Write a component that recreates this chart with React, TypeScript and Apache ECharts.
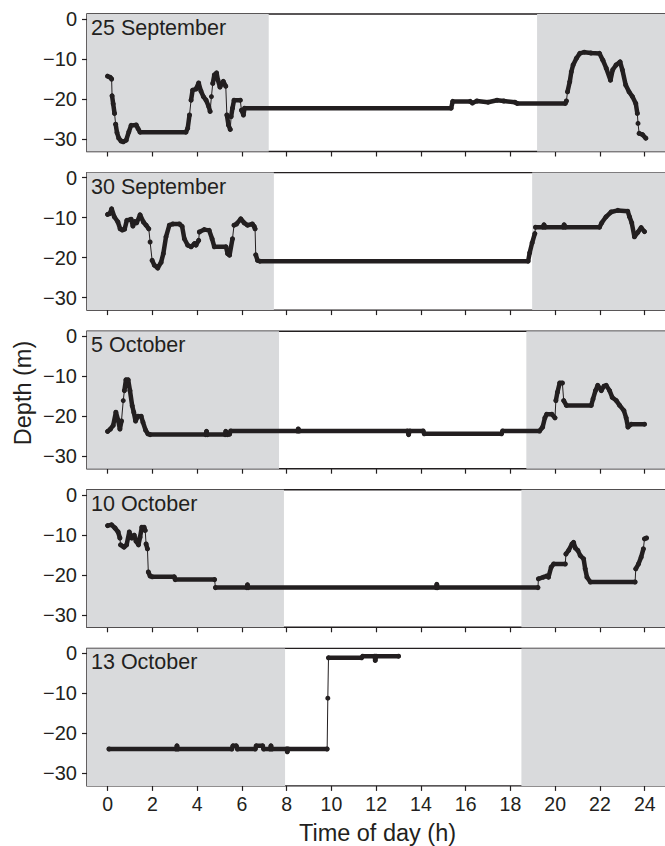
import React, { useEffect, useRef } from "react";
import * as echarts from "echarts";

// ---------------- data (time of day h, depth m) ----------------
const panelTitles = ["25 September", "30 September", "5 October", "10 October", "13 October"];
const nightEnd = [7.2, 7.43, 7.66, 7.88, 7.93];
const nightStart = [19.19, 18.97, 18.71, 18.49, 18.49];

const day1: number[][] = [
  [0.0, -14.3], [0.12, -14.6], [0.18, -15.0], [0.2, -19.2], [0.25, -21.2], [0.31, -23.6], [0.36, -26.3],
  [0.42, -28.4], [0.5, -29.8], [0.6, -30.5], [0.7, -30.7], [0.83, -30.3], [0.95, -28.2], [1.05, -26.6],
  [1.28, -26.5], [1.36, -27.4], [1.45, -28.3], [3.5, -28.3], [3.58, -27.3], [3.66, -24.0], [3.73, -20.3],
  [3.8, -17.8], [3.95, -17.5], [4.07, -16.0], [4.17, -18.0], [4.28, -19.4], [4.4, -20.3], [4.52, -21.9],
  [4.58, -23.1], [4.64, -19.4], [4.7, -16.1], [4.77, -14.0], [4.87, -13.5], [4.93, -15.3], [5.02, -17.0],
  [5.17, -15.6], [5.28, -16.8], [5.33, -24.0], [5.4, -26.5], [5.48, -27.6], [5.52, -24.4], [5.58, -22.3],
  [5.65, -20.3], [5.93, -20.3], [5.98, -22.8], [6.07, -24.0], [6.12, -22.3], [15.35, -22.3], [15.42, -20.6],
  [16.2, -20.6], [16.3, -21.0], [16.5, -20.5], [17.0, -20.8], [17.4, -20.3], [17.7, -20.5], [18.2, -20.8],
  [18.3, -21.1], [20.45, -21.1], [20.5, -20.5], [20.55, -18.2], [20.65, -15.7], [20.72, -13.2], [20.8, -11.5],
  [20.95, -9.8], [21.1, -8.6], [21.3, -8.3], [21.6, -8.5], [21.98, -8.6], [22.13, -10.3], [22.28, -12.3],
  [22.47, -15.3], [22.57, -12.7], [22.72, -11.5], [22.9, -10.7], [23.0, -12.7], [23.15, -16.5], [23.3, -18.2],
  [23.45, -19.4], [23.6, -21.1], [23.67, -23.6], [23.7, -26.1], [23.75, -28.6], [23.9, -28.9], [24.05, -29.8],
];

const day2: number[][] = [
  [0, -9.2], [0.1, -9.0], [0.18, -7.8], [0.3, -9.8], [0.46, -11.1], [0.56, -12.8], [0.66, -13.1], [0.76, -12.9],
  [0.86, -10.7], [1.05, -10.4], [1.13, -12.1], [1.22, -11.0], [1.3, -11.3], [1.45, -9.3], [1.6, -11.1],
  [1.72, -11.9], [1.84, -12.8], [1.9, -16.1], [1.99, -20.7], [2.09, -21.9], [2.24, -22.6], [2.39, -21.2],
  [2.49, -19.0], [2.61, -14.8], [2.76, -11.9], [2.91, -11.6], [3.21, -11.6], [3.33, -12.2], [3.43, -15.3],
  [3.58, -16.9], [3.73, -17.3], [3.88, -16.5], [3.95, -16.9], [4.07, -15.7], [4.1, -13.6], [4.32, -13.0],
  [4.54, -13.2], [4.67, -15.3], [4.77, -17.3], [5.29, -17.3], [5.36, -19.0], [5.45, -19.4], [5.58, -15.3],
  [5.65, -11.9], [5.76, -11.6], [5.95, -10.3], [6.1, -11.3], [6.25, -11.9], [6.47, -11.6], [6.55, -12.2],
  [6.59, -12.8], [6.62, -19.3], [6.7, -20.7], [6.8, -20.9], [18.79, -20.9], [18.86, -18.8], [18.97, -16.3],
  [19.09, -14.0], [19.12, -12.4], [19.45, -12.4], [19.5, -11.8], [19.55, -12.4], [20.35, -12.4], [20.4, -11.8],
  [20.45, -12.4], [21.98, -12.4], [22.08, -11.3], [22.27, -9.8], [22.5, -8.6], [22.8, -8.2], [23.24, -8.4],
  [23.32, -9.8], [23.42, -11.3], [23.54, -14.8], [23.69, -13.7], [23.84, -12.5], [23.99, -13.5],
];

const day3: number[][] = [
  [0, -23.8], [0.13, -23.2], [0.25, -22.3], [0.37, -19.0], [0.47, -21.0], [0.55, -23.2], [0.62, -21.2],
  [0.7, -16.1], [0.75, -13.6], [0.82, -10.9], [0.92, -10.9], [1.0, -13.6], [1.1, -17.4], [1.17, -19.0],
  [1.25, -21.2], [1.36, -20.0], [1.5, -20.0], [1.58, -21.5], [1.7, -23.5], [1.8, -24.4], [1.9, -24.6],
  [4.38, -24.6], [4.42, -23.8], [4.46, -24.6], [5.25, -24.6], [5.28, -23.8], [5.35, -24.6], [5.45, -24.5],
  [5.5, -23.7], [8.48, -23.7], [8.52, -23.2], [8.56, -23.7], [13.4, -23.7], [13.45, -24.6], [13.5, -23.7],
  [14.1, -23.7], [14.15, -24.4], [17.6, -24.4], [17.65, -23.7], [19.3, -23.7], [19.44, -22.7], [19.54, -20.4],
  [19.62, -19.5], [19.85, -19.5], [19.99, -20.4], [20.03, -16.1], [20.1, -14.0], [20.2, -11.7], [20.32, -11.7],
  [20.38, -16.1], [20.5, -17.3], [21.61, -17.3], [21.69, -15.7], [21.8, -13.6], [21.9, -12.3], [22.06, -13.6],
  [22.18, -12.5], [22.28, -12.3], [22.43, -13.6], [22.55, -15.3], [22.73, -16.1], [22.88, -17.3], [23.07, -18.6],
  [23.17, -20.4], [23.25, -22.7], [23.4, -22.0], [23.99, -22.0],
];

const day4: number[][] = [
  [0, -7.7], [0.18, -7.5], [0.33, -8.3], [0.47, -9.3], [0.55, -10.8], [0.58, -12.5], [0.73, -13.1],
  [0.85, -12.5], [0.97, -9.3], [1.08, -10.8], [1.19, -10.1], [1.27, -11.6], [1.38, -12.5], [1.45, -10.6],
  [1.53, -8.1], [1.63, -8.1], [1.68, -8.9], [1.72, -12.3], [1.78, -13.5], [1.82, -19.3], [1.9, -20.3],
  [2.0, -20.5], [2.98, -20.5], [3.02, -21.2], [4.78, -21.2], [4.82, -23.2], [6.22, -23.2], [6.25, -22.5],
  [6.28, -23.2], [14.68, -23.2], [14.71, -22.4], [14.74, -23.2], [19.23, -23.2], [19.25, -21.0], [19.47, -20.6],
  [19.62, -20.3], [19.7, -20.6], [19.82, -18.1], [19.93, -17.3], [20.45, -17.3], [20.48, -14.8], [20.6, -13.9],
  [20.75, -12.3], [20.82, -11.9], [20.9, -13.3], [21.01, -13.9], [21.12, -15.2], [21.27, -16.0], [21.34, -18.5],
  [21.42, -20.6], [21.57, -21.8], [23.57, -21.8], [23.6, -18.5], [23.72, -17.3], [23.84, -15.6], [23.94, -13.5],
  [23.99, -11.0], [24.08, -10.8],
];

const day5: number[][] = [
  [0.06, -23.9], [3.06, -23.9], [3.1, -23.1], [3.14, -23.9], [5.55, -23.9], [5.6, -23.1], [5.75, -23.1],
  [5.8, -23.9], [6.6, -23.9], [6.64, -23.1], [6.93, -23.1], [6.97, -23.9], [7.26, -23.9], [7.3, -23.1],
  [7.34, -23.9], [8.0, -23.9], [8.03, -24.6], [8.06, -23.9], [9.81, -23.9], [9.84, -11.2], [9.87, -1.1],
  [11.35, -1.1], [11.4, -0.7], [11.93, -0.7], [11.96, -1.75], [12.0, -0.7], [13.0, -0.7],
];

const depthSeries = [day1, day2, day3, day4, day5];

const xTicks = [0, 2, 4, 6, 8, 10, 12, 14, 16, 18, 20, 22, 24];
const yTicks = [0, -10, -20, -30];

// ---------------- layout / style ----------------
const FONT = '"Liberation Sans", Arial, Helvetica, sans-serif';
const INK = "#231f20";
const SHADE = "#d9dadc";
const PANEL_TOPS = [14, 172.6, 331.2, 489.8, 648.4];
const PANEL_H = 137.5;
const GRID_LEFT = 87;
const GRID_W = 580;
const X_MIN = -0.92;
const X_MAX = X_MIN + GRID_W / 22.458;
const Y_MAX = 1.25;
const Y_MIN = Y_MAX - PANEL_H / 4;

function thickRuns(pts: number[][]) {
  const out: any[] = [];
  for (let i = 0; i < pts.length; i++) {
    if (i > 0) {
      const dt = pts[i][0] - pts[i - 1][0];
      const dd = Math.abs(pts[i][1] - pts[i - 1][1]);
      if (dt <= 0 || dd / dt > 45) out.push([pts[i][0], null]);
    }
    out.push(pts[i]);
  }
  return out;
}

export default function App() {
  const ref = useRef<HTMLDivElement>(null);

  useEffect(() => {
    if (!ref.current) return;
    const chart = echarts.init(ref.current, null, { renderer: "svg" });

    const grid = PANEL_TOPS.map((top) => ({
      left: GRID_LEFT,
      top,
      width: GRID_W,
      height: PANEL_H,
      show: true,
      borderColor: INK,
      borderWidth: 1.4,
      backgroundColor: "transparent",
    }));

    const xAxis = PANEL_TOPS.map((_, i) => ({
      type: "value",
      gridIndex: i,
      min: X_MIN,
      max: X_MAX,
      position: "bottom",
      axisLine: { show: false, onZero: false },
      splitLine: { show: false },
      axisTick: { show: true, inside: false, customValues: xTicks, length: 5, lineStyle: { color: INK, width: 1.2 } },
      axisLabel: {
        show: i === 4,
        customValues: xTicks,
        fontSize: 19.5,
        color: INK,
        fontFamily: FONT,
        margin: 8,
      },
    }));

    const yAxis = PANEL_TOPS.map((_, i) => ({
      type: "value",
      gridIndex: i,
      min: Y_MIN,
      max: Y_MAX,
      position: "left",
      axisLine: { show: false, onZero: false },
      splitLine: { show: false },
      axisTick: { show: true, inside: false, customValues: yTicks, length: 5, lineStyle: { color: INK, width: 1.2 } },
      axisLabel: {
        customValues: yTicks,
        fontSize: 20,
        color: INK,
        fontFamily: FONT,
        margin: 10,
        formatter: (v: number) => (v === 0 ? "0" : "\u2212" + Math.abs(v)),
      },
    }));

    const series: any[] = [];
    depthSeries.forEach((pts, i) => {
      series.push({
        type: "line",
        xAxisIndex: i,
        yAxisIndex: i,
        data: [],
        silent: true,
        z: 1,
        markArea: {
          silent: true,
          itemStyle: { color: SHADE },
          data: [
            [{ xAxis: X_MIN }, { xAxis: nightEnd[i] }],
            [{ xAxis: nightStart[i] }, { xAxis: X_MAX }],
          ],
        },
      });
      series.push({
        type: "line",
        xAxisIndex: i,
        yAxisIndex: i,
        data: thickRuns(pts),
        connectNulls: false,
        symbol: "none",
        lineStyle: { color: INK, width: 4.5, cap: "round", join: "round" },
        z: 3,
        silent: true,
      });
      series.push({
        type: "line",
        xAxisIndex: i,
        yAxisIndex: i,
        data: pts,
        symbol: "circle",
        symbolSize: 5,
        showAllSymbol: true,
        itemStyle: { color: INK },
        lineStyle: { color: INK, width: 1 },
        z: 4,
        silent: true,
      });
    });

    const graphic: any[] = panelTitles.map((t, i) => ({
      type: "text",
      left: GRID_LEFT + 4,
      top: PANEL_TOPS[i] + 3,
      style: { text: t, fontSize: 21.5, fontFamily: FONT, fill: INK },
      z: 10,
    }));
    graphic.push({
      type: "text",
      x: 23,
      y: 393,
      rotation: Math.PI / 2,
      style: {
        text: "Depth (m)",
        fontSize: 23.5,
        fontFamily: FONT,
        fill: INK,
        align: "center",
        verticalAlign: "middle",
      },
    });
    graphic.push({
      type: "text",
      x: 377.5,
      y: 833,
      style: {
        text: "Time of day (h)",
        fontSize: 23.5,
        fontFamily: FONT,
        fill: INK,
        align: "center",
        verticalAlign: "middle",
      },
    });

    chart.setOption({
      animation: false,
      backgroundColor: "#ffffff",
      grid,
      xAxis,
      yAxis,
      series,
      graphic,
    });

    return () => chart.dispose();
  }, []);

  return <div ref={ref} style={{ width: 665, height: 846, position: "absolute", left: 0, top: 0 }} />;
}
